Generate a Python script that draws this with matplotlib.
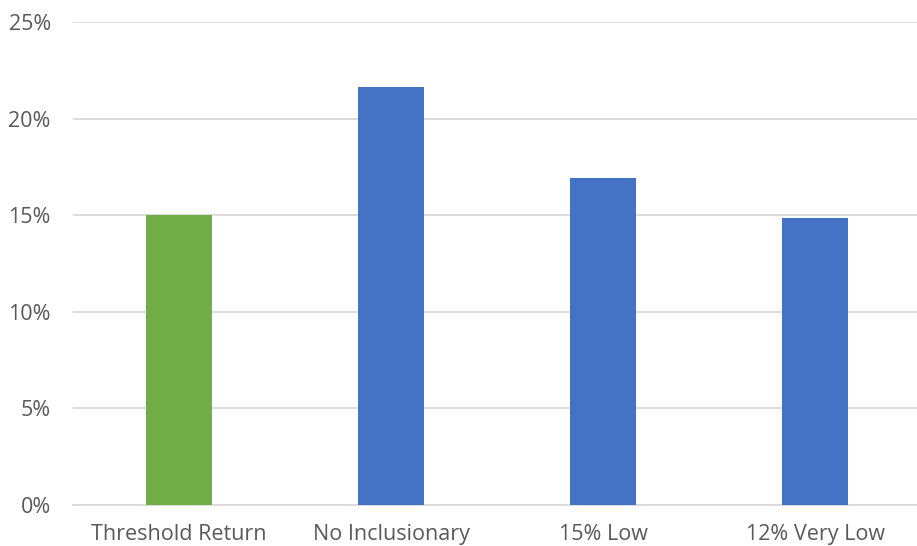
import matplotlib
matplotlib.use("Agg")
import matplotlib.pyplot as plt
from matplotlib.ticker import PercentFormatter

categories = ["Threshold Return", "No Inclusionary", "15% Low", "12% Very Low"]
values = [15.0, 21.64, 16.93, 14.86]
colors = ["#70AD47", "#4472C4", "#4472C4", "#4472C4"]
yticks = [0, 5, 10, 15, 20, 25]

W, H = 917, 546
fig = plt.figure(figsize=(W / 100, H / 100), dpi=100)
left, right, bottom, top = 73, 921, 505, 22
ax = fig.add_axes([left / W, (H - bottom) / H, (right - left) / W, (bottom - top) / H])

x = range(len(categories))
ax.bar(x, values, width=0.316, color=colors, zorder=3)
ax.set_xlim(-0.5, 3.5)
ax.set_ylim(0, 25)
ax.set_yticks(yticks)
ax.yaxis.set_major_formatter(PercentFormatter(decimals=0))
ax.set_xticks(list(x))
ax.set_xticklabels(categories)

for s in ["top", "right", "left"]:
    ax.spines[s].set_visible(False)
ax.spines["bottom"].set_color("#D9D9D9")
ax.spines["bottom"].set_linewidth(1.3)
ax.grid(axis="y", color="#D9D9D9", linewidth=1.3, zorder=0)
ax.tick_params(axis="both", length=0, colors="#595959")
ax.tick_params(axis="y", pad=16, labelsize=15.5)
ax.tick_params(axis="x", pad=14, labelsize=15.5)
for lbl in ax.get_xticklabels() + ax.get_yticklabels():
    lbl.set_fontfamily("Open Sans")
    lbl.set_color("#595959")

fig.savefig("out.png", dpi=100)
